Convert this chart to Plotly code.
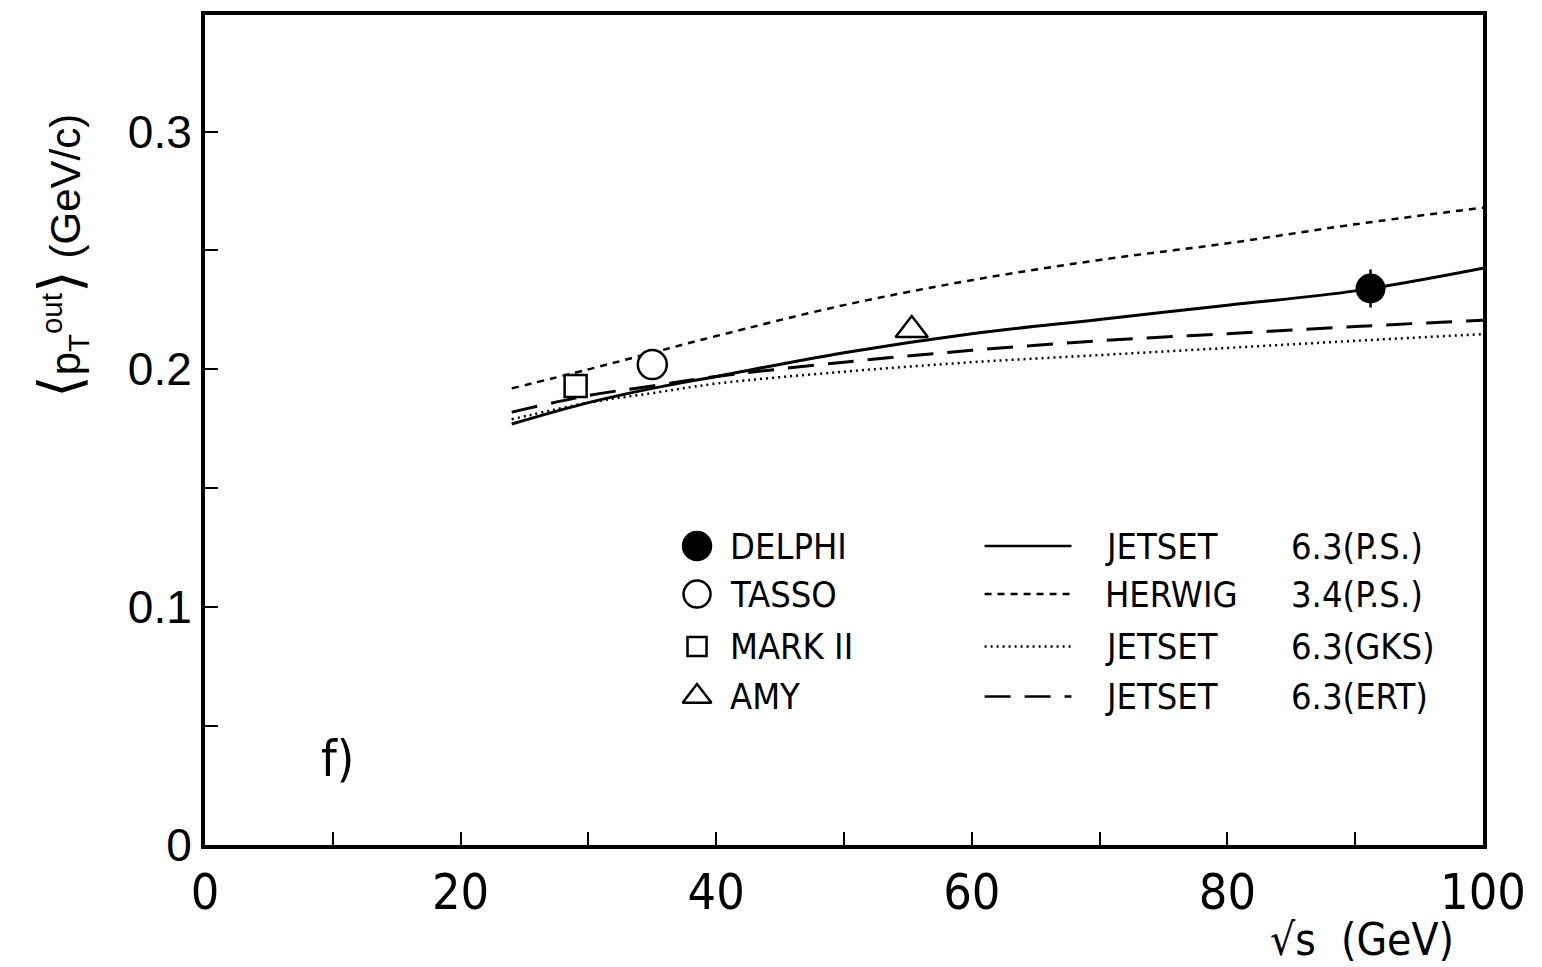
import plotly.graph_objects as go

# ---- data ----
delphi_x = [91.2]; delphi_y = [0.234]; delphi_err = [0.008]
tasso_x = [35.0]; tasso_y = [0.202]
mark2_x = [29.0]; mark2_y = [0.193]
amy_x = [55.3]; amy_y = [0.2165]

# model curves
curve_x = [24, 30, 35, 40, 50, 60, 70, 80, 90, 100]
jetset_ps = [0.177, 0.186, 0.192, 0.197, 0.207, 0.215, 0.221, 0.227, 0.233, 0.2425]
herwig = [0.192, 0.200, 0.207, 0.214, 0.227, 0.2375, 0.246, 0.253, 0.261, 0.268]
jetset_gks = [0.179, 0.186, 0.190, 0.194, 0.199, 0.203, 0.206, 0.209, 0.212, 0.2148]
jetset_ert = [0.182, 0.189, 0.193, 0.197, 0.203, 0.208, 0.212, 0.215, 0.218, 0.2207]

x_tickvals = [0, 10, 20, 30, 40, 50, 60, 70, 80, 90, 100]
x_ticktext = ["0", "", "20", "", "40", "", "60", "", "80", "", "100"]
y_tickvals = [0, 0.05, 0.1, 0.15, 0.2, 0.25, 0.3]
y_ticktext = ["0", "", "0.1", "", "0.2", "", "0.3"]

exp_names = ["DELPHI", "TASSO", "MARK II", "AMY"]
exp_symbols = ["circle", "circle", "square", "triangle-up"]
model_names = ["JETSET", "HERWIG", "JETSET", "JETSET"]
model_versions = ["6.3(P.S.)", "3.4(P.S.)", "6.3(GKS)", "6.3(ERT)"]
model_dashes = ["solid", "7px,6px", "2px,4px", "26px,14px"]

FONT = "Liberation Sans Narrow, DejaVu Sans Condensed, Arial Narrow, sans-serif"
K = "black"

fig = go.Figure()

for ys, dash, w in [(jetset_ps, "solid", 3), (herwig, "7px,6px", 2.5),
                    (jetset_gks, "2px,4px", 2.5), (jetset_ert, "26px,14px", 3)]:
    fig.add_trace(go.Scatter(x=curve_x, y=ys, mode="lines", line_shape="spline",
                             line=dict(color=K, width=w, dash=dash), showlegend=False))

fig.add_trace(go.Scatter(x=mark2_x, y=mark2_y, mode="markers",
                         marker=dict(symbol="square", size=22, color="white",
                                     line=dict(color=K, width=2.5)), showlegend=False))
fig.add_trace(go.Scatter(x=tasso_x, y=tasso_y, mode="markers",
                         marker=dict(symbol="circle", size=29, color="white",
                                     line=dict(color=K, width=2.5)), showlegend=False))
fig.add_trace(go.Scatter(x=amy_x, y=amy_y, mode="markers",
                         marker=dict(symbol="triangle-up", size=28, color="white",
                                     line=dict(color=K, width=2.5)), showlegend=False))
fig.add_trace(go.Scatter(x=delphi_x, y=delphi_y, mode="markers",
                         error_y=dict(type="data", array=delphi_err, color=K, thickness=2.5, width=0),
                         marker=dict(symbol="circle", size=30, color=K), showlegend=False))

# ---- custom legend ----
leg_y = [0.1257, 0.1055, 0.0835, 0.0624]
for i in range(4):
    yv = leg_y[i]
    filled = i == 0
    fig.add_trace(go.Scatter(x=[38.5], y=[yv], mode="markers", showlegend=False,
                             marker=dict(symbol=exp_symbols[i],
                                         size=[28, 27, 19, 25][i],
                                         color=K if filled else "white",
                                         line=dict(color=K, width=2.5))))
    fig.add_annotation(x=40.9, y=yv, xref="x", yref="y", text=exp_names[i], showarrow=False,
                       xanchor="left", yanchor="middle", font=dict(family=FONT, size=36, color=K))
    fig.add_trace(go.Scatter(x=[61.0, 67.8], y=[yv, yv], mode="lines", showlegend=False,
                             line=dict(color=K, width=2.5, dash=model_dashes[i])))
    fig.add_annotation(x=70.3, y=yv, xref="x", yref="y", text=model_names[i], showarrow=False,
                       xanchor="left", yanchor="middle", font=dict(family=FONT, size=36, color=K))
    fig.add_annotation(x=84.8, y=yv, xref="x", yref="y", text=model_versions[i], showarrow=False,
                       xanchor="left", yanchor="middle", font=dict(family=FONT, size=36, color=K))

fig.add_annotation(x=10.4, y=0.036, xref="x", yref="y", text="f)", showarrow=False,
                   font=dict(family=FONT, size=50, color=K))

# axis titles
fig.add_annotation(x=-0.113, y=0.71, xref="paper", yref="paper", textangle=-90,
                   text="<span style='font-size:58px'>⟨</span>p<sub>T</sub><sup>out</sup>"
                        "<span style='font-size:58px'>⟩</span> (GeV/c)",
                   showarrow=False, xanchor="center", yanchor="middle",
                   font=dict(family="Liberation Sans, Arial, sans-serif", size=42, color=K))
fig.add_annotation(x=0.905, y=-0.114, xref="paper", yref="paper",
                   text="√s  (GeV)", showarrow=False, xanchor="center", yanchor="middle",
                   font=dict(family=FONT, size=44, color=K))

fig.update_layout(
    width=1542, height=967,
    margin=dict(l=205, r=59, t=15, b=122),
    paper_bgcolor="white", plot_bgcolor="white",
    xaxis=dict(range=[0, 100], tickvals=x_tickvals, ticktext=x_ticktext,
               ticks="inside", ticklen=13, tickwidth=2, tickcolor=K,
               showline=True, linewidth=4, linecolor=K, mirror=True,
               showgrid=False, zeroline=False,
               tickfont=dict(family=FONT, size=50, color=K)),
    yaxis=dict(range=[0, 0.349], tickvals=y_tickvals, ticktext=y_ticktext,
               ticks="inside", ticklen=13, tickwidth=2, tickcolor=K,
               showline=True, linewidth=4, linecolor=K, mirror=True,
               showgrid=False, zeroline=False,
               tickfont=dict(family="Liberation Sans, Arial, sans-serif", size=46, color=K)),
)

fig.write_html("out.html")
